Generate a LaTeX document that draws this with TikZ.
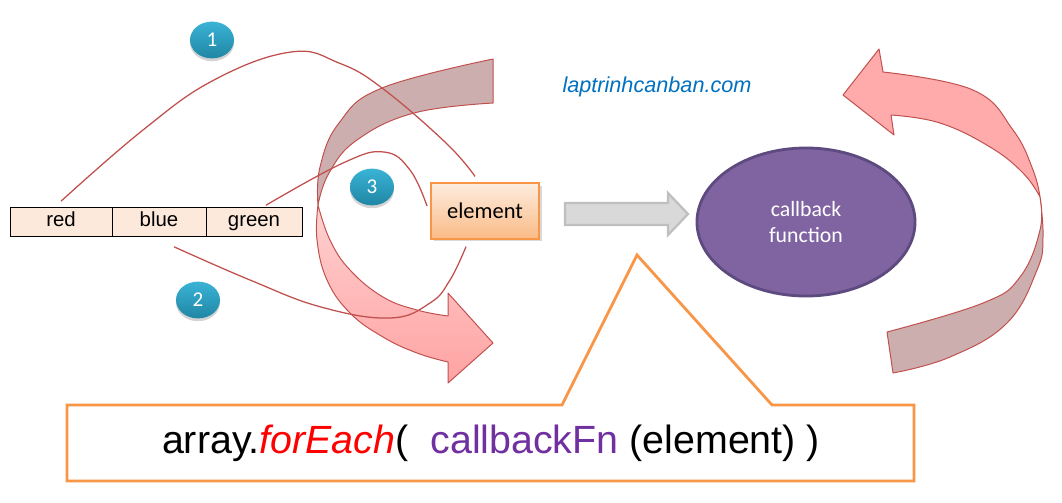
\documentclass[tikz,border=0pt]{standalone}
\usepackage{fontspec}
\setmainfont{Liberation Sans}
\newfontfamily\calibri{Carlito}
\usepackage{xcolor}
\usetikzlibrary{calc,shadows,shapes.geometric}
\definecolor{ribbonline}{HTML}{C0504D}
\definecolor{ribbonback}{HTML}{CDAEAE}
\definecolor{ribbonfront}{HTML}{FFABAB}
\definecolor{cellfill}{HTML}{FCE9DB}
\definecolor{elemline}{HTML}{F79646}
\definecolor{fnfill}{HTML}{8064A2}
\definecolor{fnline}{HTML}{5D4A7E}
\definecolor{badgetop}{HTML}{3AB3D6}
\definecolor{badgebot}{HTML}{2086A4}
\definecolor{sitecol}{HTML}{0070C0}
\definecolor{fncol}{HTML}{7030A0}
\tikzset{
  ribbon/.style={draw=ribbonline,line width=0.7pt,line join=round},
  link/.style={draw=ribbonline,line width=0.9pt},
  cell/.style={draw,fill=cellfill,minimum height=0.725cm,inner sep=0pt,text height=1.6ex,text depth=.45ex,font=\fontsize{14.5}{17}\selectfont},
  badge/.style={ellipse,minimum width=1.1cm,minimum height=0.92cm,inner sep=0pt,top color=badgetop,bottom color=badgebot,
    drop shadow={shadow xshift=0pt,shadow yshift=-2pt,opacity=.35},text=white,font=\calibri\fontsize{15}{17}\selectfont},
}
\begin{document}
\begin{tikzpicture}[x=0.025cm,y=-0.025cm]
        \useasboundingbox (0,0) rectangle (1062,502);
        \draw[ribbon,fill=ribbonback] plot[smooth, tension=.7] coordinates {(493,59) (382,88) (339,123) (320,167) (318,205)}
            -- plot[smooth, tension=.7] coordinates {(318,205) (329,173) (357,140) (414,113) (493,103)} -- cycle;
        \draw[ribbon,top color=ribbonfront!55!white,bottom color=ribbonfront!95!red] plot[smooth, tension=.7] coordinates {(318,205) (317,240) (327,280) (350,313) (383,337) (417,353) (448,362)}
            -- (448,383) -- (493,343) -- (448,293) -- (448,316)
            -- plot[smooth, tension=.7] coordinates {(448,316) (417,310) (383,297) (350,270) (330,240) (318,205)} -- cycle;
        \draw[ribbon,fill=ribbonfront] (843,95) -- (879,49) -- (883,72)
            -- plot[smooth, tension=.7] coordinates {(883,72) (973,90) (1013,130) (1033,170) (1040,197)}
            -- plot[smooth, tension=.7] coordinates {(1040,197) (1023,173) (990,147) (940,123) (891,115)} -- (894,135) -- cycle;
        \draw[ribbon,fill=ribbonback] plot[smooth, tension=.7] coordinates {(1040,197) (1043,237) (1037,270) (1007,323) (950,357) (893,373)}
            -- (887,332) -- plot[smooth, tension=.7] coordinates {(887,332) (983,303) (1020,277) (1040,230) (1040,197)} -- cycle;
        \node[cell,minimum width=2.55cm] (red) at (61,222) {red};
        \node[cell,minimum width=2.35cm] (blue) at (159,222) {blue};
        \node[cell,minimum width=2.4cm] (green) at (254,222) {green};
        \node[draw=elemline,line width=1.4pt,top color=elemline!18!white,bottom color=elemline!65!white,minimum width=2.7cm,minimum height=1.38cm,
            drop shadow={shadow xshift=2pt,shadow yshift=-2pt,opacity=.3},font=\calibri\fontsize{16}{18}\selectfont] (elem) at (485,211) {element};
        \draw[link] plot[smooth, tension=.7] coordinates {($(red.north)+(0,-6)$) (143,130) (214,80) (291,52) (339,63) (382,88) (446,143) ($(elem.north)+(-10,-6)$)};
        \draw[link] plot[smooth, tension=.7] coordinates {($(blue.south)+(15,10)$) (250,280) (321,307) (390,318) (430,303) (450,280) ($(elem.south)+(-19,7)$)};
        \draw[link] plot[smooth, tension=.7] coordinates {($(green.north)+(12,-2)$) (343,163) (384,152) (410,170) ($(elem.west)+(-3,-5)$)};
        \node[badge] (b1) at (212,40) {1};
        \node[badge] (b2) at (198,300) {2};
        \node[badge] (b3) at (372,187) {3};
        \draw[draw=black!25,line width=1.6pt,fill=black!15] (565,203) -- (668,203) -- (668,193) -- (688,214) -- (668,235) -- (668,225) -- (565,225) -- cycle;
        \node[ellipse,draw=fnline,line width=2pt,fill=fnfill,minimum width=5.45cm,minimum height=3.7cm,text=white,align=center,
            font=\calibri\fontsize{15.5}{19}\selectfont] (callback) at (806,222) {callback\\function};
        \node[text=sitecol,font=\itshape\fontsize{15.4}{18}\selectfont] (site) at (657,87) {laptrinhcanban.com};
        \draw[draw=elemline,line width=2pt,fill=white] (67,405) -- (562,405) -- (637,255) -- (772,405) -- (914,405) -- (914,481) -- (67,481) -- cycle;
        \node[font=\fontsize{28}{33}\selectfont] (code) at (491,443) {array.\textcolor{red}{\itshape forEach}(\ \ \textcolor{fncol}{callbackFn} (element) )};
\end{tikzpicture}
\end{document}
